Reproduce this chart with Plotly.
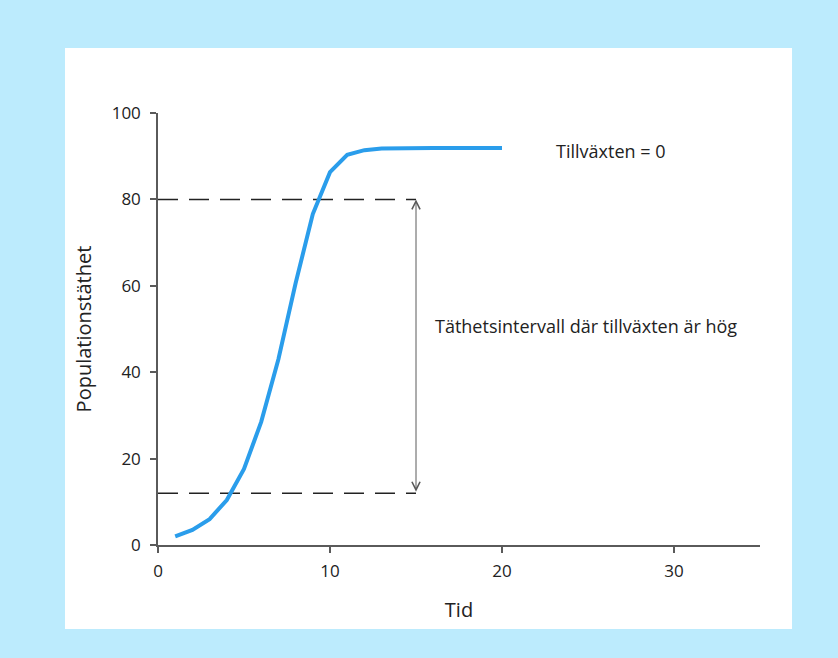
# logistic growth chart

import plotly.graph_objects as go

tid = [1, 2, 3, 4, 5, 6, 7, 8, 9, 10, 11, 12, 13, 14, 15, 16, 17, 18, 19, 20]
tathet = [2.0, 3.5, 6.0, 10.4, 17.6, 28.5, 43.0, 60.6, 76.6, 86.3,
          90.3, 91.4, 91.8, 91.9, 91.9, 91.9, 91.9, 91.9, 91.9, 91.9]

hog_x = [0, 15]
hog_ovre = [80, 80]
hog_undre = [12, 12]

x_ticks = [0, 10, 20, 30]
y_ticks = [0, 20, 40, 60, 80, 100]

FONT = "Open Sans"
INK = "#222222"
AXIS = "#5a5a5a"

fig = go.Figure()

dash = dict(color=INK, width=1.5, dash="20px,11px")
fig.add_trace(go.Scatter(x=hog_x, y=hog_ovre, mode="lines", line=dash, hoverinfo="skip"))
fig.add_trace(go.Scatter(x=hog_x, y=hog_undre, mode="lines", line=dash, hoverinfo="skip"))

fig.add_trace(go.Scatter(x=tid, y=tathet, mode="lines",
                         line=dict(color="#2A9DEB", width=4)))

# double arrow for the high-growth interval
fig.add_annotation(x=hog_x[1], y=hog_ovre[0], ax=hog_x[1], ay=hog_undre[0],
                   xref="x", yref="y", axref="x", ayref="y", text="",
                   showarrow=True, arrowside="end+start", arrowhead=5,
                   arrowsize=1.6, arrowwidth=1, arrowcolor=AXIS)

fig.add_annotation(x=23.0, y=91.3, xref="x", yref="y", text="Tillväxten = 0",
                   showarrow=False, xanchor="left",
                   font=dict(family=FONT, size=18, color=INK))
fig.add_annotation(x=16.0, y=50.7, xref="x", yref="y",
                   text="Täthetsintervall där tillväxten är hög",
                   showarrow=False, xanchor="left",
                   font=dict(family=FONT, size=18, color=INK))

# white panel on the light blue page
fig.add_shape(type="rect", xref="paper", yref="paper",
              x0=-0.1545, x1=1.0532, y0=-0.1944, y1=1.1505,
              fillcolor="white", line_width=0, layer="below")

fig.update_xaxes(range=[0, 35], tickvals=x_ticks, showgrid=False, zeroline=False,
                 showline=True, linecolor=AXIS, linewidth=1.5,
                 ticks="outside", ticklen=6, tickcolor=AXIS, tickwidth=1.5,
                 ticklabelstandoff=4,
                 tickfont=dict(family=FONT, size=17, color=INK),
                 title=dict(text="Tid", standoff=22,
                            font=dict(family=FONT, size=20, color=INK)))
fig.update_yaxes(range=[0, 100], tickvals=y_ticks, showgrid=False, zeroline=False,
                 showline=True, linecolor=AXIS, linewidth=1.5,
                 ticks="outside", ticklen=6, tickcolor=AXIS, tickwidth=1.5,
                 ticklabelstandoff=6,
                 tickfont=dict(family=FONT, size=17, color=INK),
                 title=dict(text="Populationstäthet", standoff=15,
                            font=dict(family=FONT, size=20, color=INK)))

fig.update_layout(width=838, height=658, showlegend=False,
                  margin=dict(l=158, r=78, t=113, b=113),
                  paper_bgcolor="#BCEBFD", plot_bgcolor="rgba(0,0,0,0)")

# page margin off so the figure sits at the window corner
fig.write_html("out.html", config={"displayModeBar": False},
               post_script="document.body.style.margin='0';")
